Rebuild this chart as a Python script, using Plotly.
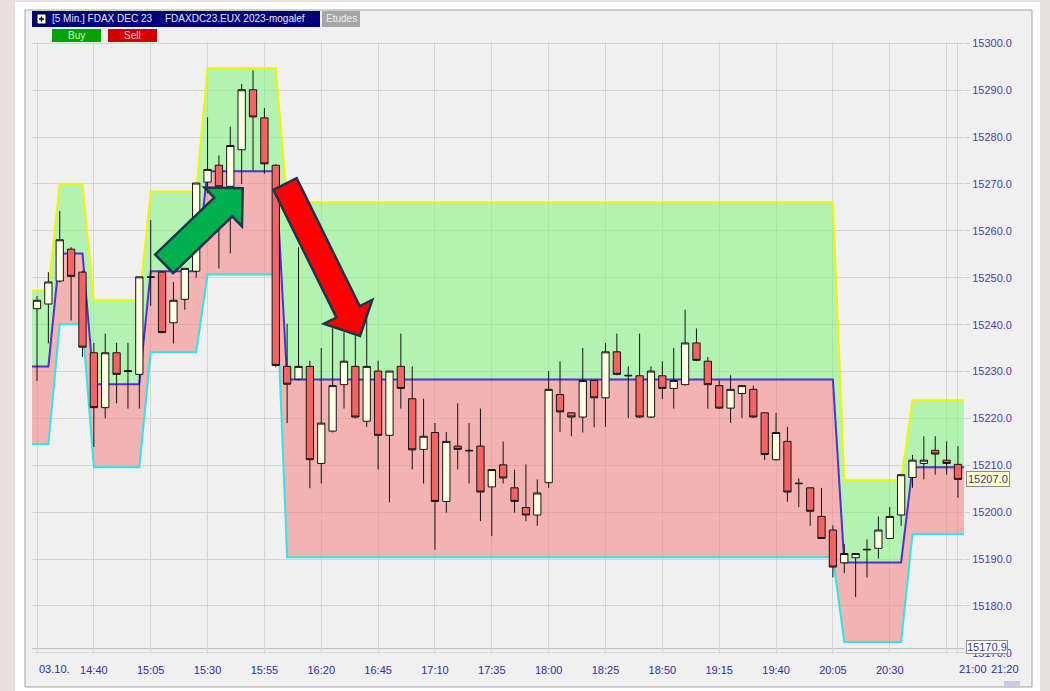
import plotly.graph_objects as go
import numpy as np

# ---------------- data ----------------
# 5-minute bars, 03.10.2023 from 14:15 to 21:00
times = ["%02d:%02d" % divmod(14 * 60 + 15 + 5 * i, 60) for i in range(82)]

opens = [15243.4, 15244.4, 15249.3, 15256.1, 15251.2, 15234.0, 15222.3, 15234.0, 15230.2, 15229.4,
         15250.2, 15251.2, 15240.4, 15245.4, 15251.4, 15270.4, 15274.0, 15269.5, 15277.3, 15290.1,
         15284.1, 15274.0, 15231.1, 15228.4, 15231.1, 15210.4, 15217.3, 15227.2, 15231.1, 15219.4,
         15230.1, 15216.4, 15231.1, 15224.2, 15213.4, 15217.0, 15202.3, 15214.1, 15213.2, 15214.1,
         15205.4, 15210.1, 15205.2, 15201.0, 15199.4, 15206.3, 15225.1, 15221.2, 15220.3, 15228.1,
         15224.4, 15234.2, 15229.2, 15229.1, 15220.3, 15229.1, 15226.4, 15227.2, 15236.1, 15232.2,
         15227.0, 15222.2, 15225.3, 15226.2, 15221.2, 15211.2, 15215.1, 15206.2, 15205.2, 15199.1,
         15196.2, 15189.2, 15190.3, 15192.1, 15192.3, 15194.4, 15199.4, 15207.4, 15210.4, 15213.2,
         15211.1, 15210.2]
highs = [15246.1, 15251.2, 15264.2, 15256.5, 15251.5, 15236.1, 15238.1, 15236.1, 15236.1, 15250.2,
         15262.3, 15251.5, 15249.1, 15252.0, 15270.2, 15284.2, 15276.1, 15282.2, 15291.3, 15294.2,
         15286.2, 15274.2, 15240.2, 15256.5, 15232.3, 15235.0, 15239.2, 15238.4, 15237.7, 15242.0,
         15232.3, 15230.1, 15238.1, 15231.1, 15224.2, 15219.0, 15217.1, 15223.2, 15219.0, 15222.1,
         15209.1, 15215.1, 15209.1, 15210.2, 15207.0, 15230.1, 15232.2, 15221.3, 15235.0, 15228.2,
         15236.1, 15238.1, 15231.1, 15238.1, 15231.1, 15232.2, 15235.0, 15243.2, 15239.2, 15233.1,
         15228.1, 15229.2, 15227.1, 15227.0, 15221.3, 15221.2, 15218.2, 15207.2, 15205.3, 15205.2,
         15197.2, 15193.2, 15191.3, 15194.2, 15199.1, 15201.1, 15208.1, 15212.2, 15216.2, 15216.2,
         15215.1, 15214.1]
lows = [15228.0, 15236.0, 15249.0, 15240.9, 15233.1, 15213.9, 15220.0, 15223.2, 15222.1, 15222.1,
        15244.0, 15238.2, 15236.0, 15243.2, 15250.0, 15268.0, 15252.0, 15255.2, 15270.0, 15272.9,
        15272.2, 15230.9, 15219.0, 15228.1, 15205.1, 15206.1, 15217.0, 15222.1, 15220.0, 15218.2,
        15209.1, 15202.1, 15222.1, 15209.1, 15206.1, 15192.0, 15199.9, 15209.1, 15206.1, 15198.1,
        15194.9, 15206.1, 15199.9, 15198.1, 15197.1, 15205.2, 15217.1, 15216.2, 15217.0, 15218.1,
        15218.2, 15229.2, 15220.1, 15220.1, 15220.1, 15224.1, 15222.1, 15227.0, 15232.2, 15222.1,
        15222.0, 15219.0, 15220.1, 15220.1, 15211.1, 15211.0, 15202.2, 15201.1, 15197.1, 15194.3,
        15186.1, 15187.0, 15181.9, 15186.1, 15190.1, 15194.3, 15197.1, 15205.2, 15207.0, 15208.0,
        15208.0, 15203.1]
closes = [15245.2, 15249.1, 15258.1, 15250.3, 15235.2, 15222.3, 15234.0, 15229.4, 15230.0, 15250.2,
          15250.1, 15238.3, 15245.2, 15252.0, 15270.2, 15273.1, 15269.4, 15278.2, 15290.1, 15284.3,
          15274.3, 15231.3, 15227.3, 15231.1, 15211.2, 15219.0, 15227.0, 15232.2, 15220.3, 15231.1,
          15216.4, 15230.1, 15226.4, 15213.3, 15216.2, 15202.3, 15215.1, 15213.4, 15213.1, 15204.3,
          15209.1, 15207.3, 15202.3, 15199.4, 15204.1, 15226.2, 15221.4, 15220.3, 15228.1, 15224.4,
          15234.2, 15229.4, 15229.1, 15220.3, 15230.1, 15226.4, 15228.1, 15236.1, 15232.4, 15227.2,
          15222.2, 15226.2, 15227.0, 15220.3, 15212.3, 15217.0, 15204.3, 15206.1, 15200.2, 15194.4,
          15188.3, 15191.2, 15191.2, 15192.0, 15196.2, 15199.1, 15208.0, 15211.1, 15211.1, 15212.4,
          15210.4, 15207.0]

# Mogalef bands (one value per bar)
band_upper = [15247.3] * 2 + [15270.0] * 3 + [15245.2] * 5 + [15268.4] * 5 + [15294.7] * 7 \
    + [15266.1] * 49 + [15206.8] * 6 + [15223.9] * 5
band_middle = [15231.1] * 2 + [15255.2] * 3 + [15227.3] * 5 + [15251.4] * 5 + [15272.7] * 7 \
    + [15228.3] * 49 + [15189.3] * 6 + [15209.6] * 5
band_lower = [15214.5] * 2 + [15240.1] * 3 + [15209.6] * 5 + [15234.1] * 5 + [15250.7] * 7 \
    + [15190.4] * 49 + [15172.3] * 6 + [15195.3] * 5

x_tick_bars = [0, 5, 10, 15, 20, 25, 30, 35, 40, 45, 50, 55, 60, 65, 70, 75, 80, 81]
x_tick_text = ["", "14:40", "15:05", "15:30", "15:55", "16:20", "16:45", "17:10", "17:35",
               "18:00", "18:25", "18:50", "19:15", "19:40", "20:05", "20:30", "", ""]
y_tick_vals = [15170, 15180, 15190, 15200, 15210, 15220, 15230, 15240, 15250, 15260, 15270,
               15280, 15290, 15300]
y_tick_text = ["%.1f" % v for v in y_tick_vals]
last_price = 15207.0
session_low = 15170.9

# ---------------- layout geometry (pixels) ----------------
W, H = 1050, 691
PL, PR, PT, PB = 32, 964, 42, 654
XR = [-0.44, 81.53]
YR = [15169.76, 15300.28]
FONT = "Liberation Sans, Arial, sans-serif"
TXT = "#2e2ea0"


def fx(px):
    return (px - PL) / (PR - PL)


def fy(py):
    return (PB - py) / (PB - PT)


idx = list(range(len(times)))
xb = [-1] + idx + [len(idx)]


def pad(v):
    return [v[0]] + list(v) + [v[-1]]


fig = go.Figure()

# bands on the base subplot
fig.add_trace(go.Scatter(x=xb, y=pad(band_lower), mode="lines",
                         line=dict(color="#2ee6e6", width=2), hoverinfo="skip", showlegend=False))
fig.add_trace(go.Scatter(x=xb, y=pad(band_middle), mode="lines", fill="tonexty",
                         fillcolor="rgba(246,118,118,0.5)",
                         line=dict(color="#4a34cf", width=2), hoverinfo="skip", showlegend=False))
fig.add_trace(go.Scatter(x=xb, y=pad(band_upper), mode="lines", fill="tonexty",
                         fillcolor="rgba(116,246,116,0.5)",
                         line=dict(color="#f4f400", width=2), hoverinfo="skip", showlegend=False))

# candles on an overlaid subplot so they sit above the band fills
fig.add_trace(go.Candlestick(
    x=idx, open=opens, high=highs, low=lows, close=closes, text=times,
    xaxis="x2", yaxis="y2",
    increasing=dict(fillcolor="#ffffe4", line=dict(color="#141414", width=1)),
    decreasing=dict(fillcolor="#f26464", line=dict(color="#141414", width=1)),
    whiskerwidth=0, showlegend=False, hoverinfo="text+y"))

shapes = []
# window background / frame
shapes.append(dict(type="rect", xref="paper", yref="paper", layer="below",
                   x0=fx(15), x1=fx(1040), y0=fy(691), y1=fy(2),
                   fillcolor="#ffffff", line=dict(width=0)))
shapes.append(dict(type="rect", xref="paper", yref="paper", layer="below",
                   x0=fx(25), x1=fx(1032), y0=fy(687), y1=fy(10),
                   fillcolor="#f0f0f0", line=dict(color="#a4a4a4", width=1)))
# header bar, icon, buttons
shapes.append(dict(type="rect", xref="paper", yref="paper", x0=fx(32), x1=fx(320),
                   y0=fy(27), y1=fy(11), fillcolor="#00007c", line=dict(width=0)))
shapes.append(dict(type="rect", xref="paper", yref="paper", x0=fx(37), x1=fx(46),
                   y0=fy(24), y1=fy(14), fillcolor="#ffffff", line=dict(color="#000000", width=1)))
shapes.append(dict(type="line", xref="paper", yref="paper", x0=fx(39), x1=fx(44),
                   y0=fy(19), y1=fy(19), line=dict(color="#000000", width=1.5)))
shapes.append(dict(type="line", xref="paper", yref="paper", x0=fx(41.5), x1=fx(41.5),
                   y0=fy(16.5), y1=fy(21.5), line=dict(color="#000000", width=1.5)))
shapes.append(dict(type="rect", xref="paper", yref="paper", x0=fx(322), x1=fx(360),
                   y0=fy(27), y1=fy(11), fillcolor="#a6a6a6", line=dict(width=0)))
shapes.append(dict(type="rect", xref="paper", yref="paper", x0=fx(52), x1=fx(101),
                   y0=fy(42), y1=fy(29), fillcolor="#00a400", line=dict(width=0)))
shapes.append(dict(type="rect", xref="paper", yref="paper", x0=fx(108), x1=fx(157),
                   y0=fy(42), y1=fy(29), fillcolor="#d20000", line=dict(width=0)))
# scroll thumb
shapes.append(dict(type="rect", xref="paper", yref="paper", x0=fx(1004), x1=fx(1020),
                   y0=fy(688), y1=fy(681), fillcolor="#c9cbda", line=dict(width=0)))
# session low price line
shapes.append(dict(type="line", xref="paper", yref="y", x0=0, x1=1,
                   y0=session_low, y1=session_low, layer="below",
                   line=dict(color="#b8b8b8", width=1)))


def arrow_path(tail, tip, w=13, hw=27, hl=27):
    s = np.array(tail, float)
    e = np.array(tip, float)
    u = (e - s) / np.linalg.norm(e - s)
    n = np.array([-u[1], u[0]])
    bc = e - u * hl
    pts = [s + n * w, bc + n * w, bc + n * hw, e, bc - n * hw, bc - n * w, s - n * w]
    return "M " + " L ".join("%.5f,%.5f" % (fx(p[0]), fy(p[1])) for p in pts) + " Z"


shapes.append(dict(type="path", xref="paper", yref="paper",
                   path=arrow_path((164.2, 263.8), (242.7, 188.3)),
                   fillcolor="#00b04e", line=dict(color="#1e344e", width=2.5)))
shapes.append(dict(type="path", xref="paper", yref="paper",
                   path=arrow_path((285.0, 184.0), (360.0, 336.0)),
                   fillcolor="#ff0000", line=dict(color="#1e344e", width=2.5)))

annotations = []


def label(text, px, py, size=11, color="#000000", xanchor="left", **kw):
    annotations.append(dict(text=text, x=fx(px), y=fy(py), xref="paper", yref="paper",
                            xanchor=xanchor, yanchor="middle", showarrow=False,
                            font=dict(family=FONT, size=size, color=color), **kw))


label("[5 Min.] FDAX DEC 23", 50, 19, size=10, color="#e8e8ff")
label("FDAXDC23.EUX 2023-mogalef", 163, 19, size=10, color="#e8e8ff")
label("Etudes", 341, 19, size=10, color="#eeeeee", xanchor="center")
label("Buy", 76.5, 35.5, size=10, color="#c8ffc8", xanchor="center")
label("Sell", 132.5, 35.5, size=10, color="#ffd8d8", xanchor="center")
label("03.10.", 37, 669, size=11, color=TXT)
label("21:00", 973, 669, size=11, color=TXT, xanchor="center")
label("21:20", 1005, 669, size=11, color=TXT, xanchor="center")

annotations.append(dict(text="%.1f" % last_price, x=fx(966), y=last_price, xref="paper", yref="y",
                        xanchor="left", yanchor="middle", showarrow=False,
                        bgcolor="#ffffc4", bordercolor="#8a8a8a", borderwidth=1, borderpad=1,
                        font=dict(family=FONT, size=11, color="#3a34a0")))
annotations.append(dict(text="%.1f" % session_low, x=fx(966), y=session_low, xref="paper", yref="y",
                        xanchor="left", yanchor="middle", showarrow=False, yshift=2,
                        bgcolor="#ffffff", bordercolor="#8a8a8a", borderwidth=1, borderpad=0,
                        font=dict(family=FONT, size=11, color="#3a34a0")))

fig.update_layout(
    width=W, height=H, autosize=False,
    margin=dict(l=PL, r=W - PR, t=PT, b=H - PB, pad=0),
    paper_bgcolor="#ebdede", plot_bgcolor="#f0f0f0",
    font=dict(family=FONT, size=11, color=TXT),
    showlegend=False, boxgap=0.36, boxgroupgap=0,
    shapes=shapes, annotations=annotations, hovermode="closest",
    xaxis=dict(range=XR, tickmode="array", tickvals=x_tick_bars, ticktext=x_tick_text,
               showgrid=True, gridcolor="#d6d6d6", gridwidth=1, zeroline=False,
               ticks="outside", ticklen=6, tickcolor="rgba(0,0,0,0)",
               tickfont=dict(family=FONT, size=11, color=TXT),
               rangeslider=dict(visible=False), showline=False, fixedrange=True),
    yaxis=dict(range=YR, side="right", tickmode="array", tickvals=y_tick_vals,
               ticktext=y_tick_text, showgrid=True, gridcolor="#d6d6d6", gridwidth=1,
               zeroline=False, ticks="outside", ticklen=5, tickcolor="#d0d0d0",
               tickfont=dict(family=FONT, size=11, color="#4a3fa8"), showline=False,
               fixedrange=True),
    xaxis2=dict(range=XR, overlaying="x", visible=False, showgrid=False, zeroline=False,
                rangeslider=dict(visible=False), fixedrange=True),
    yaxis2=dict(range=YR, overlaying="y", visible=False, showgrid=False, zeroline=False,
                fixedrange=True),
)

fig.write_html("out.html", config={"displayModeBar": False},
               post_script="document.body.style.margin='0';document.body.style.overflow='hidden';")
